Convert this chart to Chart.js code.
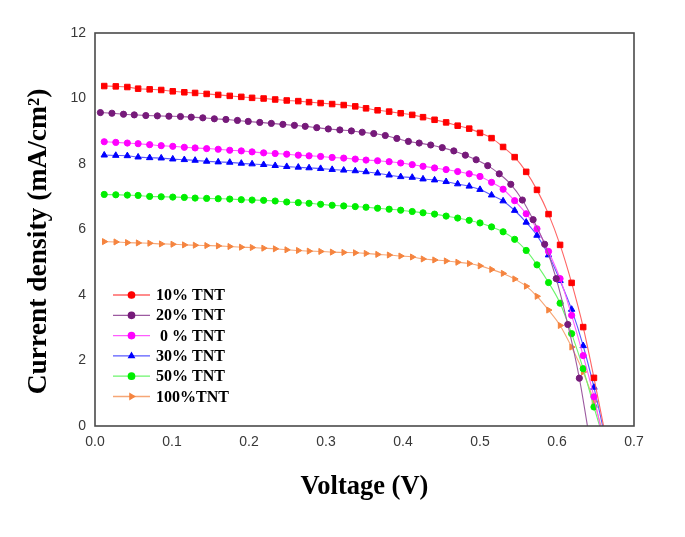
<!DOCTYPE html>
<html>
<head>
<meta charset="utf-8">
<script src="https://cdn.jsdelivr.net/npm/chart.js@4.4.1/dist/chart.umd.min.js"></script>
<style>
html, body { margin: 0; padding: 0; background: #fff; }
</style>
</head>
<body>
<canvas id="chart" width="685" height="537"></canvas>
<script>
// voltage (V) at each measured point
const voltage = [0.012,0.027,0.042,0.056,0.071,0.086,0.101,0.116,0.130,0.145,
	0.160,0.175,0.190,0.204,0.219,0.234,0.249,0.264,0.278,0.293,
	0.308,0.323,0.338,0.352,0.367,0.382,0.397,0.412,0.426,0.441,
	0.456,0.471,0.486,0.500,0.515,0.530,0.545,0.560,0.574,0.589,
	0.604,0.619,0.634,0.648,0.663];
const voltage20 = [0.007,0.022,0.037,0.051,0.066,0.081,0.096,0.111,0.125,0.140,
	0.155,0.170,0.185,0.199,0.214,0.229,0.244,0.259,0.273,0.288,
	0.303,0.318,0.333,0.347,0.362,0.377,0.392,0.407,0.421,0.436,
	0.451,0.466,0.481,0.495,0.510,0.525,0.540,0.555,0.569,0.584,
	0.599,0.614,0.629,0.643];

// current density (mA/cm2)
const tnt10 = [10.38,10.37,10.35,10.30,10.28,10.26,10.22,10.19,10.17,10.14,
	10.11,10.08,10.05,10.02,10.00,9.97,9.94,9.92,9.89,9.86,
	9.83,9.80,9.76,9.70,9.64,9.60,9.55,9.50,9.43,9.35,
	9.27,9.17,9.08,8.95,8.79,8.52,8.21,7.76,7.21,6.47,
	5.53,4.37,3.02,1.47,-0.3];
const tnt20 = [9.57,9.55,9.52,9.50,9.48,9.47,9.46,9.45,9.43,9.41,
	9.38,9.36,9.33,9.30,9.27,9.24,9.21,9.18,9.15,9.11,
	9.07,9.04,9.01,8.97,8.93,8.87,8.78,8.69,8.64,8.58,
	8.50,8.40,8.27,8.13,7.95,7.70,7.38,6.90,6.30,5.55,
	4.50,3.10,1.46,-0.5];
const tnt0 = [8.68,8.66,8.64,8.62,8.59,8.56,8.54,8.51,8.49,8.47,
	8.45,8.42,8.40,8.37,8.34,8.32,8.30,8.27,8.25,8.23,
	8.20,8.18,8.15,8.12,8.10,8.07,8.03,7.98,7.93,7.88,
	7.83,7.77,7.70,7.62,7.44,7.23,6.88,6.48,6.02,5.33,
	4.50,3.38,2.15,0.89,-0.8];
const tnt30 = [8.27,8.26,8.25,8.21,8.19,8.18,8.15,8.13,8.11,8.08,
	8.06,8.05,8.02,8.00,7.98,7.95,7.92,7.90,7.88,7.86,
	7.83,7.81,7.79,7.76,7.72,7.66,7.61,7.59,7.54,7.51,
	7.46,7.39,7.32,7.22,7.05,6.87,6.58,6.22,5.82,5.22,
	4.44,3.56,2.45,1.18,-0.4];
const tnt50 = [7.07,7.06,7.05,7.04,7.01,7.00,6.99,6.98,6.96,6.95,
	6.94,6.93,6.91,6.90,6.89,6.87,6.84,6.82,6.80,6.77,
	6.74,6.72,6.70,6.68,6.65,6.62,6.59,6.55,6.51,6.47,
	6.41,6.35,6.28,6.20,6.08,5.93,5.70,5.36,4.92,4.38,
	3.75,2.82,1.75,0.58,-0.6];
const tnt100 = [5.63,5.62,5.60,5.59,5.58,5.56,5.55,5.53,5.52,5.51,
	5.50,5.48,5.46,5.45,5.43,5.41,5.38,5.36,5.34,5.33,
	5.31,5.30,5.29,5.27,5.24,5.22,5.19,5.16,5.10,5.07,
	5.04,5.00,4.96,4.89,4.78,4.66,4.49,4.27,3.96,3.54,
	3.07,2.41,1.65,0.75,-0.5];

const labels = ['10% TNT', '20% TNT', ' 0 % TNT', '30% TNT', '50% TNT', '100%TNT'];
const xTicks = [0, 0.7, 0.1];
const yTicks = [0, 12, 2];

const serif = 'Liberation Serif, Times New Roman, serif';
const sans = 'Liberation Sans, Arial, sans-serif';

const makeSet = (label, xs, ys, color, line, style, radius, rotation) => ({
	label: label,
	data: ys.map((y, i) => ({ x: xs[i], y: y })),
	borderColor: line,
	backgroundColor: color,
	pointBackgroundColor: color,
	pointBorderColor: color,
	pointBorderWidth: 1,
	pointStyle: style,
	pointRadius: radius,
	pointRotation: rotation || 0,
	borderWidth: 1.1,
	cubicInterpolationMode: 'monotone'
});

const datasets = [
	makeSet(labels[0], voltage, tnt10, '#ff0000', '#ff6464', 'rect', 3.9),
	makeSet(labels[1], voltage20, tnt20, '#761a7a', '#9c5aa0', 'circle', 3.1),
	makeSet(labels[2], voltage, tnt0, '#ff00ff', '#ff5cff', 'circle', 3.1),
	makeSet(labels[3], voltage, tnt30, '#0000ff', '#5a5aff', 'triangle', 3.7),
	makeSet(labels[4], voltage, tnt50, '#00ee00', '#6cf56c', 'circle', 3.1),
	makeSet(labels[5], voltage, tnt100, '#f5843f', '#f6a676', 'triangle', 3.5, 90)
];

// frame round the plot area
const frame = {
	id: 'frame',
	afterDraw(chart) {
		const { ctx, chartArea: a } = chart;
		ctx.save();
		ctx.strokeStyle = '#4a4a4a';
		ctx.lineWidth = 1.6;
		ctx.strokeRect(a.left, a.top, a.right - a.left, a.bottom - a.top);
		ctx.restore();
	}
};

// y title sits a little below the middle of the axis
const yTitle = {
	id: 'yTitle',
	afterDraw(chart) {
		const { ctx, chartArea: a } = chart;
		ctx.save();
		ctx.translate(39, (a.top + a.bottom) / 2 + 12);
		ctx.rotate(-Math.PI / 2);
		ctx.fillStyle = '#000';
		ctx.font = 'bold 27.5px ' + serif;
		ctx.textAlign = 'center';
		ctx.textBaseline = 'middle';
		ctx.fillText('Current density (mA/cm²)', 0, 0);
		ctx.restore();
	}
};

// legend drawn inside the plot, bottom left
const insideLegend = {
	id: 'insideLegend',
	afterDraw(chart) {
		const { ctx, chartArea: a } = chart;
		const x0 = a.left + 18;
		const y0 = a.bottom - 131;
		ctx.save();
		chart.data.datasets.forEach((ds, i) => {
			const y = y0 + i * 20.3;
			ctx.strokeStyle = ds.borderColor;
			ctx.lineWidth = 1.3;
			ctx.beginPath();
			ctx.moveTo(x0, y);
			ctx.lineTo(x0 + 37, y);
			ctx.stroke();
			ctx.fillStyle = ds.pointBackgroundColor;
			ctx.strokeStyle = ds.pointBackgroundColor;
			Chart.helpers.drawPoint(ctx, {
				pointStyle: ds.pointStyle === 'rect' ? 'circle' : ds.pointStyle,
				rotation: ds.pointRotation,
				radius: 3.2,
				borderWidth: 1
			}, x0 + 18.5, y);
			ctx.fillStyle = '#000';
			ctx.font = 'bold 16px ' + serif;
			ctx.textBaseline = 'middle';
			ctx.textAlign = 'left';
			ctx.fillText(ds.label, x0 + 43, y + 1);
		});
		ctx.restore();
	}
};

new Chart(document.getElementById('chart'), {
	type: 'line',
	data: { datasets: datasets },
	options: {
		responsive: false,
		animation: false,
		layout: { padding: { top: 33, right: 51, left: 0, bottom: 0 } },
		plugins: {
			legend: { display: false },
			tooltip: { enabled: false }
		},
		scales: {
			x: {
				type: 'linear',
				min: xTicks[0],
				max: xTicks[1],
				grid: { display: false, drawTicks: false },
				border: { display: false },
				ticks: {
					stepSize: xTicks[2],
					padding: 8,
					color: '#383838',
					font: { family: sans, size: 14 },
					callback: (v) => v.toFixed(1)
				},
				title: {
					display: true,
					text: 'Voltage (V)',
					color: '#000',
					font: { family: serif, size: 26.5, weight: 'bold' },
					padding: { top: 0, bottom: 34 }
				},
				afterFit: (s) => { s.height = 111; }
			},
			y: {
				min: yTicks[0],
				max: yTicks[1],
				grid: { display: false, drawTicks: false },
				border: { display: false },
				ticks: {
					stepSize: yTicks[2],
					padding: 9,
					color: '#383838',
					font: { family: sans, size: 14 }
				},
				afterFit: (s) => { s.width = 95; }
			}
		}
	},
	plugins: [frame, yTitle, insideLegend]
});
</script>
</body>
</html>
